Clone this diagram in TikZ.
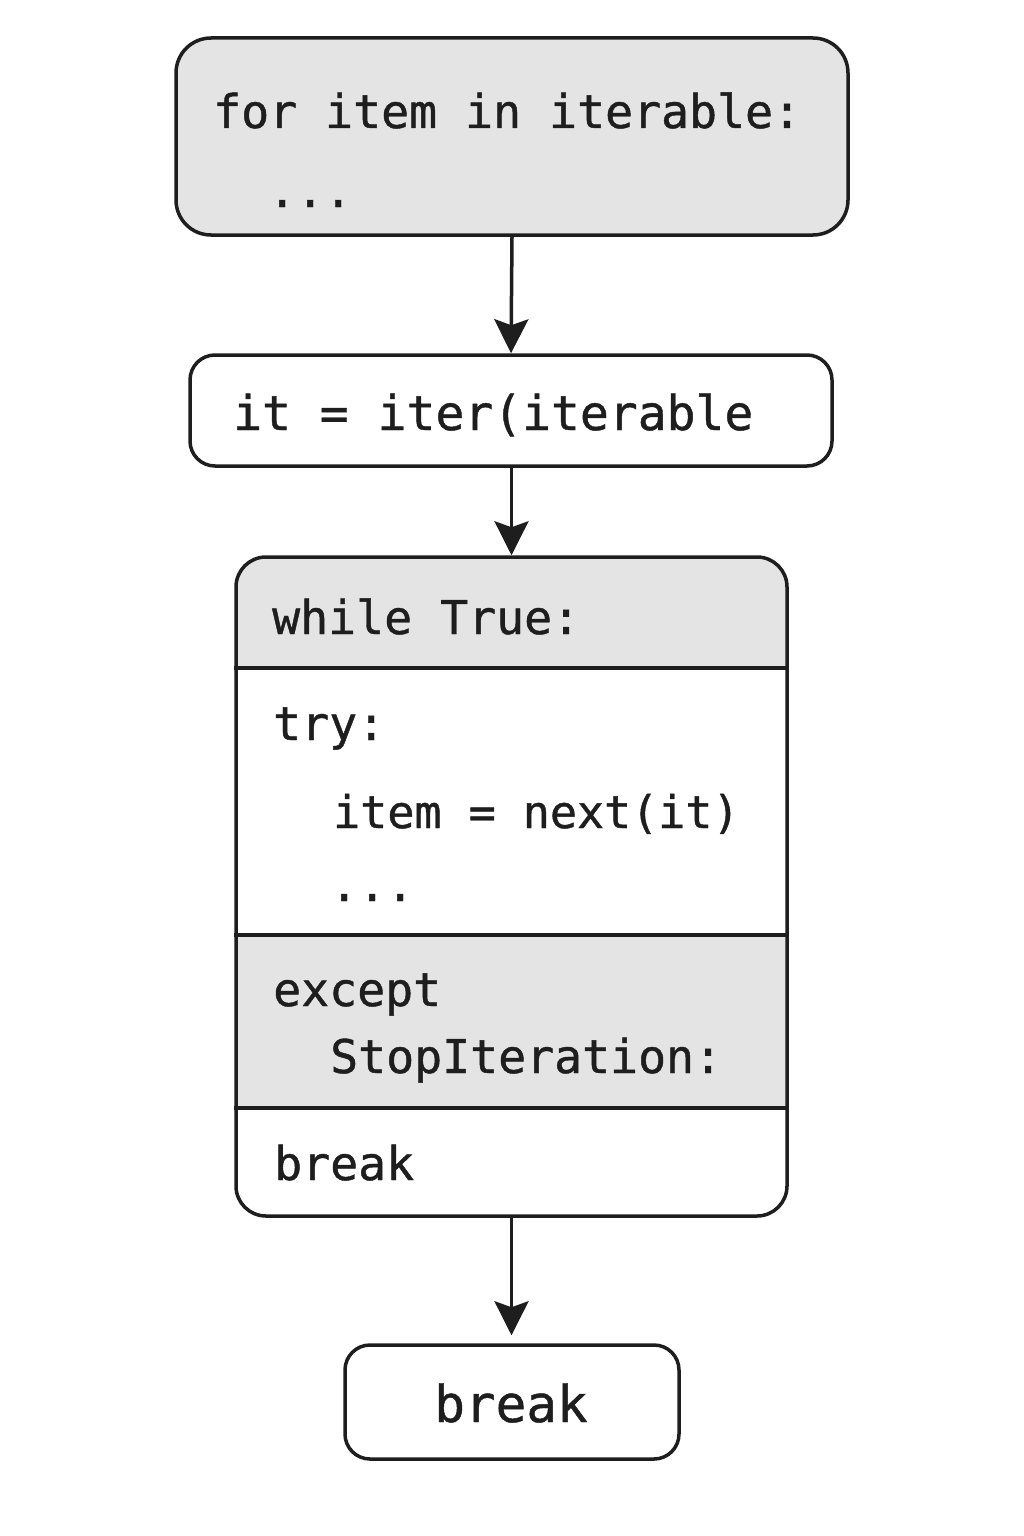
\documentclass[tikz,border=0pt]{standalone}
\usepackage{fontspec}
\setmonofont[FakeBold=0.9]{DejaVu Sans Mono}
\usetikzlibrary{arrows.meta}
\definecolor{boxgray}{HTML}{E4E4E4}
\definecolor{ink}{HTML}{1E1E1E}
\tikzset{
  box/.style={draw=ink, line width=3.5pt, inner sep=0pt},
  code/.style={anchor=base west, inner sep=0pt, text=ink, font=\ttfamily\fontsize{46.5}{50}\selectfont},
  flow/.style={draw=ink, line width=3.5pt, -{Stealth[length=34pt,width=34pt,inset=6pt]}}
}
\begin{document}
\begin{tikzpicture}[x=1pt,y=-1pt]
\useasboundingbox[fill=white] (0,0) rectangle (1024,1536);
% top box
\node[box, fill=boxgray, rounded corners=35pt, minimum width=672pt, minimum height=197pt] (forbox) at (512,136.5) {};
\node[code] (t1) at (213,128) {for item in iterable:};
\node[code] (t2) at (268,207) {...};
% iter box
\node[box, fill=white, rounded corners=25pt, minimum width=642pt, minimum height=111pt] (iterbox) at (511,410.5) {};
\node[code, font=\ttfamily\fontsize{48}{52}\selectfont] (t3) at (233,430) {it = iter(iterable};
% loop box
\begin{scope}
  \clip[rounded corners=30pt] (236,557) rectangle (787,1216);
  \fill[white] (236,557) rectangle (787,1216);
  \fill[boxgray] (236,557) rectangle (787,668);
  \fill[boxgray] (236,935) rectangle (787,1108);
\end{scope}
\node[box, rounded corners=30pt, minimum width=551pt, minimum height=659pt] (loop) at (511.5,886.5) {};
\draw[draw=ink, line width=3.5pt] (loop.west |- 0,668) -- (loop.east |- 0,668);
\draw[draw=ink, line width=3.5pt] (loop.west |- 0,935) -- (loop.east |- 0,935);
\draw[draw=ink, line width=3.5pt] (loop.west |- 0,1108) -- (loop.east |- 0,1108);
\node[code] (w1) at (272,634) {while True:};
\node[code] (w2) at (273,740) {try:};
\node[code, font=\ttfamily\fontsize{45}{50}\selectfont] (w3) at (333,828) {item = next(it)};
\node[code] (w4) at (330,901) {...};
\node[code] (w5) at (273,1006) {except};
\node[code] (w6) at (330,1073) {StopIteration:};
\node[code] (w7) at (274,1180) {break};
% bottom box
\node[box, fill=white, rounded corners=25pt, minimum width=334pt, minimum height=114pt] (brk) at (512,1402) {};
\node[code, anchor=base, font=\ttfamily\fontsize{51}{55}\selectfont] (t4) at (511,1422) {break};
% arrows
\draw[flow] (forbox.south) -- (iterbox.north);
\draw[flow] (iterbox.south -| loop.north) -- (loop.north);
\draw[flow] (loop.south) -- ([yshift=8pt]brk.north -| loop.south);
\end{tikzpicture}
\end{document}
